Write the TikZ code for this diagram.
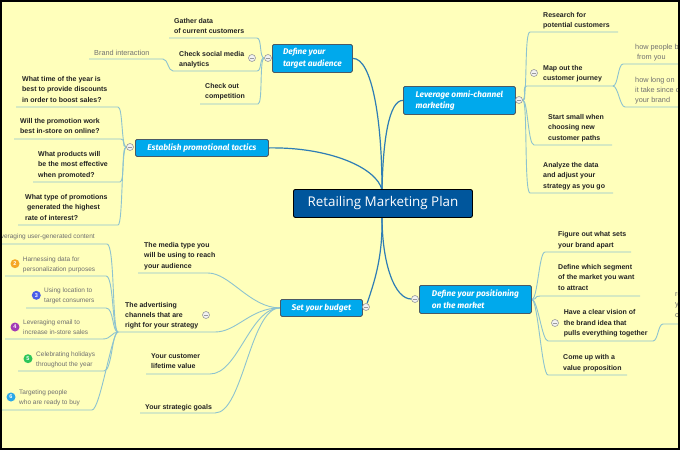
\documentclass[tikz,border=0pt]{standalone}
\usepackage{fontspec}
\setmainfont{Liberation Sans}
\newfontfamily\topicfont{Fira Sans}
\newfontfamily\centerfont{Open Sans}
\definecolor{bg}{HTML}{FFFFBB}
\definecolor{mainc}{HTML}{2E7DB5}
\definecolor{subc}{HTML}{8DC3CF}
\definecolor{topicfill}{HTML}{00A9EC}
\definecolor{topicdraw}{HTML}{4A5A66}
\definecolor{centerfill}{HTML}{00569C}
\definecolor{txt}{HTML}{222222}
\definecolor{graytxt}{HTML}{707070}
\definecolor{btnc}{HTML}{9A9A9A}
\definecolor{btnfill}{HTML}{F2F2F2}
\definecolor{nOrange}{HTML}{F5A623}
\definecolor{nBlue}{HTML}{4A5FE8}
\definecolor{nPurple}{HTML}{A23BB5}
\definecolor{nGreen}{HTML}{2DC55A}
\definecolor{nSky}{HTML}{2BA8E8}
\pgfdeclarelayer{bgfill}
\pgfdeclarelayer{lines}
\pgfsetlayers{bgfill,lines,main}
\tikzset{
  sub/.style={draw=subc, line width=0.9pt},
  mainline/.style={draw=mainc, line width=1.2pt},
  topic/.style={fill=topicfill, draw=topicdraw, line width=0.8pt, rounded corners=1.5pt,
    text=white, font=\topicfont\bfseries\itshape\fontsize{8.3}{11.5}\selectfont,
    align=left, inner sep=0pt, anchor=north west},
  child/.style={anchor=north west, inner sep=0pt, align=left, text=txt,
    font=\bfseries\fontsize{7}{10.3}\selectfont},
  graytx/.style={anchor=north west, inner sep=0pt, align=left, text=graytxt,
    font=\fontsize{7.3}{10.2}\selectfont},
  smallgray/.style={anchor=north west, inner sep=0pt, align=left, text=graytxt,
    font=\fontsize{6.5}{9.6}\selectfont},
  btn/.style={circle, draw=btnc, fill=btnfill, minimum size=7pt, inner sep=0pt, line width=0.6pt,
    path picture={\draw[btnc, line width=0.7pt]
      ([xshift=-2pt]path picture bounding box.center) -- ([xshift=2pt]path picture bounding box.center);}},
  badge/.style={circle, fill=#1, text=white, font=\bfseries\fontsize{5.5}{6}\selectfont,
    minimum size=9pt, inner sep=0pt}
}
\begin{document}
\begin{tikzpicture}[x=1pt,y=-1pt]
\useasboundingbox (0,0) rectangle (680,450);
\begin{pgfonlayer}{bgfill}
\fill[bg] (0,0) rectangle (680,450);
\end{pgfonlayer}
\clip (0,0) rectangle (680,450);

% ---------- coordinates ----------
\coordinate (c1) at (382,190);
\coordinate (c2) at (382,216);
\coordinate (gdR) at (257,38);  \coordinate (gdL) at (169,38);
\coordinate (smR) at (257,71);  \coordinate (smL) at (173,71);
\coordinate (coR) at (258,104); \coordinate (coL) at (200,104);
\coordinate (brR) at (163,59);  \coordinate (brL) at (89,59);
\coordinate (rsL) at (530,32);  \coordinate (rsR) at (618,32);
\coordinate (mpL) at (527,86);  \coordinate (mpR) at (613,86);
\coordinate (ssL) at (534,145); \coordinate (ssR) at (612,145);
\coordinate (anL) at (530,193); \coordinate (anR) at (613,193);
\coordinate (hpL) at (623,64);  \coordinate (hpR) at (684,64);
\coordinate (hlL) at (625,107); \coordinate (hlR) at (684,107);
\coordinate (q1R) at (118,107); \coordinate (q1L) at (16,107);
\coordinate (q2R) at (121,139); \coordinate (q2L) at (14,139);
\coordinate (q3R) at (120,182); \coordinate (q3L) at (33,182);
\coordinate (q4R) at (118,225); \coordinate (q4L) at (18,225);
\coordinate (mdR) at (208,273); \coordinate (mdL) at (138,273);
\coordinate (adR) at (215,332); \coordinate (adL) at (118,332);
\coordinate (cuR) at (210,374); \coordinate (cuL) at (146,374);
\coordinate (goR) at (215,413); \coordinate (goL) at (140,413);
\coordinate (u1R) at (107,244); \coordinate (u1L) at (-4,244);
\coordinate (u2R) at (106,276); \coordinate (u2L) at (5,276);
\coordinate (u3R) at (106,308); \coordinate (u3L) at (26,308);
\coordinate (u4R) at (103,339); \coordinate (u4L) at (5,339);
\coordinate (u5R) at (104,371); \coordinate (u5L) at (18,371);
\coordinate (u6R) at (92,410);  \coordinate (u6L) at (-4,410);
\coordinate (fgL) at (545,252); \coordinate (fgR) at (631,252);
\coordinate (sgL) at (540,296); \coordinate (sgR) at (640,296);
\coordinate (vsL) at (548,341); \coordinate (vsR) at (653,341);
\coordinate (vlL) at (548,375); \coordinate (vlR) at (627,375);
\coordinate (rvL) at (663,324); \coordinate (rvR) at (684,324);

% ---------- boxes ----------
\node[topic, minimum width=80pt, minimum height=28pt] (ta) at (272,44) {Define your\\target audience};
\node[topic, minimum width=112pt, minimum height=28pt] (lv) at (403,86) {Leverage omni-channel\\marketing};
\node[topic, minimum width=133pt, minimum height=17pt] (es) at (135,139) {Establish promotional tactics};
\node[topic, minimum width=112pt, minimum height=28pt] (dp) at (419,285) {Define your positioning\\on the market};
\node[topic, minimum width=82pt, minimum height=17pt] (sb) at (280,299) {Set your budget};
\node[fill=centerfill, draw=black, line width=0.9pt, rounded corners=2pt, anchor=north west,
  minimum width=179pt, minimum height=28pt, inner sep=0pt, text=white,
  font=\centerfont\fontsize{13.4}{15}\selectfont] (cen) at (293,189) {Retailing Marketing Plan};

% ---------- buttons ----------
\node[btn] (bta) at (268,58) {};
\node[btn] (bsm) at (252,58) {};
\node[btn] (blv) at (519,100) {};
\node[btn] (bmp) at (534,73) {};
\node[btn] (bes) at (130,147) {};
\node[btn] (bsb) at (366,307) {};
\node[btn] (bad) at (206,315) {};
\node[btn] (bdp) at (415,299) {};
\node[btn] (bvs) at (555,323) {};

% ---------- connectors ----------
\begin{pgfonlayer}{lines}
\draw[mainline] (ta.east) .. controls (372,58) and (382,120) .. (c1);
\draw[mainline] (lv.west) .. controls (389,100) and (383,140) .. (c1);
\draw[mainline] (es.east) .. controls (330,147) and (377,168) .. (c1);
\draw[mainline] (c2) .. controls (383,260) and (373,285) .. (bsb);
\draw[mainline] (c2) .. controls (382,265) and (395,299) .. (bdp);

\draw[sub] (bta.west) .. controls +(-5,0) and +(5,0) .. (gdR) -- (gdL);
\draw[sub] (bta.west) .. controls +(-5,0) and +(5,0) .. (smR) -- (smL);
\draw[sub] (bta.west) .. controls +(-5,0) and +(5,0) .. (coR) -- (coL);
\draw[sub] (smL) .. controls +(-5,0) and +(5,0) .. (brR) -- (brL);
\draw[sub] (blv.east) .. controls +(5,0) and +(-6,0) .. (rsL) -- (rsR);
\draw[sub] (blv.east) .. controls +(5,0) and +(-6,0) .. (mpL) -- (mpR);
\draw[sub] (blv.east) .. controls +(5,0) and +(-6,0) .. (ssL) -- (ssR);
\draw[sub] (blv.east) .. controls +(5,0) and +(-6,0) .. (anL) -- (anR);
\draw[sub] (mpR) .. controls +(5,0) and +(-5,0) .. (hpL) -- (hpR);
\draw[sub] (mpR) .. controls +(5,0) and +(-5,0) .. (hlL) -- (hlR);
\draw[sub] (bes.west) .. controls +(-5,0) and +(5,0) .. (q1R) -- (q1L);
\draw[sub] (bes.west) .. controls +(-5,0) and +(5,0) .. (q2R) -- (q2L);
\draw[sub] (bes.west) .. controls +(-5,0) and +(5,0) .. (q3R) -- (q3L);
\draw[sub] (bes.west) .. controls +(-5,0) and +(5,0) .. (q4R) -- (q4L);
\draw[sub] (sb.west) .. controls +(-30,0) and +(22,0) .. (mdR) -- (mdL);
\draw[sub] (sb.west) .. controls +(-30,0) and +(22,0) .. (adR) -- (adL);
\draw[sub] (sb.west) .. controls +(-30,0) and +(28,0) .. (cuR) -- (cuL);
\draw[sub] (sb.west) .. controls +(-30,0) and +(28,0) .. (goR) -- (goL);
\draw[sub] (adL) .. controls +(-6,0) and +(8,0) .. (u1R) -- (u1L);
\draw[sub] (adL) .. controls +(-6,0) and +(8,0) .. (u2R) -- (u2L);
\draw[sub] (adL) .. controls +(-6,0) and +(8,0) .. (u3R) -- (u3L);
\draw[sub] (adL) .. controls +(-6,0) and +(8,0) .. (u4R) -- (u4L);
\draw[sub] (adL) .. controls +(-6,0) and +(8,0) .. (u5R) -- (u5L);
\draw[sub] (adL) .. controls +(-6,0) and +(8,0) .. (u6R) -- (u6L);
\draw[sub] (dp.east) .. controls +(6,0) and +(-6,0) .. (fgL) -- (fgR);
\draw[sub] (dp.east) .. controls +(6,0) and +(-6,0) .. (sgL) -- (sgR);
\draw[sub] (dp.east) .. controls +(6,0) and +(-6,0) .. (vsL) -- (vsR);
\draw[sub] (dp.east) .. controls +(6,0) and +(-6,0) .. (vlL) -- (vlR);
\draw[sub] (vsR) .. controls +(5,0) and +(-5,0) .. (rvL) -- (rvR);
\end{pgfonlayer}

% ---------- texts ----------
\node[child] (gd) at (174,18.3) {Gather data\\of current customers};
\node[child] (sm) at (179,50.8) {Check social media\\analytics};
\node[child] (co) at (205,83.3) {Check out\\competition};
\node[graytx] (br) at (94,49.8) {Brand interaction};

\node[child] (rs) at (543,12) {Research for\\potential customers};
\node[child] (mp) at (543,65.3) {Map out the\\customer journey};
\node[child] (ss) at (548,114.3) {Start small when\\choosing new\\customer paths};
\node[child] (an) at (543,162.3) {Analyze the data\\and adjust your\\strategy as you go};
\node[graytx] (hp) at (635,44) {how people b\\\hspace{2pt}from you};
\node[graytx] (hl) at (635,77) {how long on\\it take since o\\your brand};

\node[child] (q1) at (22,76.3) {What time of the year is\\best to provide discounts\\in order to boost sales?};
\node[child] (q2) at (20,118.3) {Will the promotion work\\best in-store on online?};
\node[child] (q3) at (38,151.3) {What products will\\be the most effective\\when promoted?};
\node[child] (q4) at (25,194.3) {What type of promotions\\\hspace{2pt}generated the highest\\rate of interest?};

\node[child] (md) at (144,242.3) {The media type you\\will be using to reach\\your audience};
\node[child] (ad) at (125,302) {The advertising\\channels that are\\right for your strategy};
\node[child] (cu) at (151,353) {Your customer\\lifetime value};
\node[child] (go) at (145,404) {Your strategic goals};

\node[smallgray, anchor=north east] (t1) at (95,234) {Leveraging user-generated content};
\node[badge=nOrange] (n2) at (15,263.7) {2};
\node[smallgray] (t2) at (22.7,257) {Harnessing data for\\personalization purposes};
\node[badge=nBlue] (n3) at (36.3,295.3) {3};
\node[smallgray] (t3) at (44,288) {Using location to\\target consumers};
\node[badge=nPurple] (n4) at (15,327) {4};
\node[smallgray] (t4) at (23,319.6) {Leveraging email to\\increase in-store sales};
\node[badge=nGreen] (n5) at (28,358.7) {5};
\node[smallgray] (t5) at (36,351.6) {Celebrating holidays\\throughout the year};
\node[badge=nSky] (n6) at (11,397) {6};
\node[smallgray] (t6) at (19,390) {Targeting people\\who are ready to buy};

\node[child] (fg) at (558,231.6) {Figure out what sets\\your brand apart};
\node[child] (sg) at (558,264.3) {Define which segment\\of the market you want\\to attract};
\node[child] (vs) at (563.7,309.6) {Have a clear vision of\\the brand idea that\\pulls everything together};
\node[child] (vl) at (563,354.6) {Come up with a\\value proposition};
\node[graytx] (rv) at (675,292.5) {re\\y\\c};

\draw[black, line width=2pt] (1,1) rectangle (679,449);
\end{tikzpicture}
\end{document}
